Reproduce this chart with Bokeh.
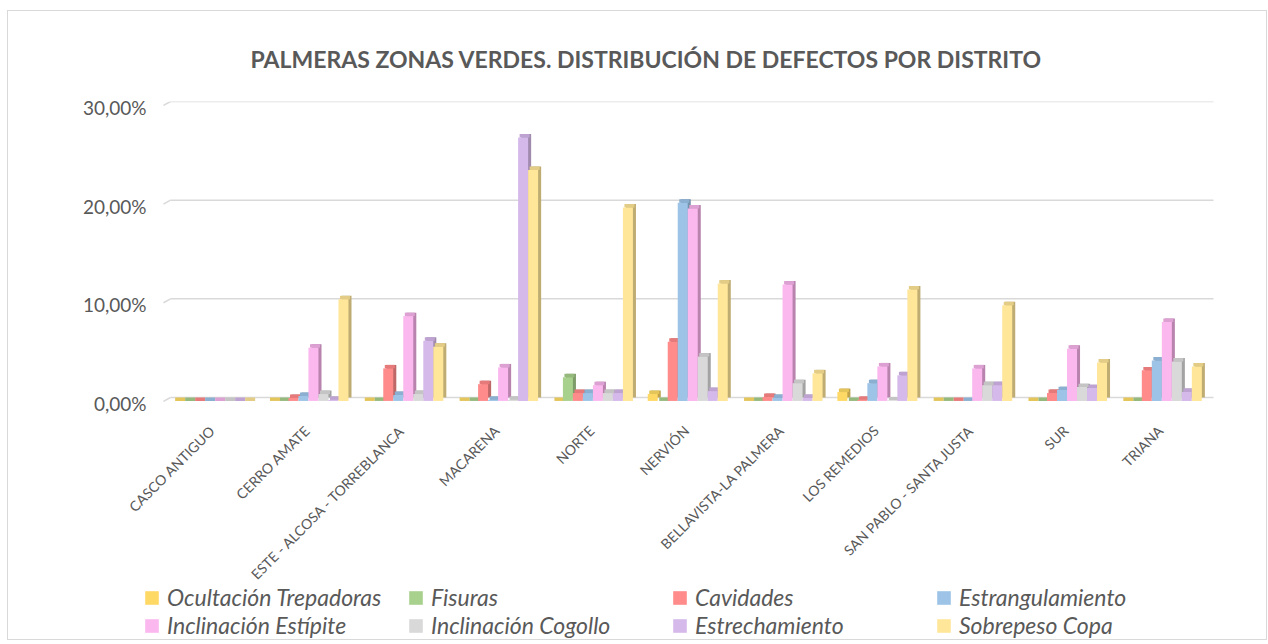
from bokeh.plotting import figure
from bokeh.models import (ColumnDataSource, FactorRange, Range1d, FixedTicker,
                          CustomJSTickFormatter, Legend, LegendItem)
from bokeh.transform import dodge
from bokeh.embed import file_html
from bokeh.resources import INLINE
import math

districts = ["CASCO ANTIGUO", "CERRO AMATE", "ESTE - ALCOSA - TORREBLANCA", "MACARENA",
             "NORTE", "NERVIÓN", "BELLAVISTA-LA PALMERA", "LOS REMEDIOS",
             "SAN PABLO - SANTA JUSTA", "SUR", "TRIANA"]

ocultacion_trepadoras = [0, 0, 0, 0, 0, 0.7, 0, 0.9, 0, 0, 0]
fisuras = [0, 0, 0, 0, 2.4, 0, 0, 0, 0, 0, 0]
cavidades = [0, 0.3, 3.3, 1.7, 0.8, 6.0, 0.4, 0.1, 0, 0.8, 3.1]
estrangulamiento = [0, 0.5, 0.6, 0.1, 0.8, 20.1, 0.3, 1.8, 0, 1.1, 4.1]
inclinacion_estipite = [0, 5.4, 8.6, 3.4, 1.6, 19.5, 11.8, 3.5, 3.3, 5.3, 8.0]
inclinacion_cogollo = [0, 0.7, 0.7, 0.1, 0.8, 4.5, 1.8, 0.05, 1.6, 1.4, 4.0]
estrechamiento = [0, 0.1, 6.1, 26.7, 0.8, 1.0, 0.3, 2.6, 1.6, 1.3, 0.9]
sobrepeso_copa = [0, 10.3, 5.5, 23.4, 19.6, 11.9, 2.8, 11.3, 9.7, 3.9, 3.5]

series_names = ["Ocultación Trepadoras", "Fisuras", "Cavidades", "Estrangulamiento",
                "Inclinación Estípite", "Inclinación Cogollo", "Estrechamiento", "Sobrepeso Copa"]
series_values = [ocultacion_trepadoras, fisuras, cavidades, estrangulamiento,
                 inclinacion_estipite, inclinacion_cogollo, estrechamiento, sobrepeso_copa]
y_ticks = [0, 10, 20, 30]

colors = ["#FFD966", "#A9D18E", "#FF8B8B", "#9DC3E6", "#FBB8EE", "#D9D9D9", "#D5B9EA", "#FFE699"]
cap_colors = ["#E3C55A", "#95B97C", "#E67A7A", "#8AAFD0", "#DCA0D2", "#C4C4C4", "#BEA3D2", "#E3CC86"]
side_colors = ["#BFA24A", "#7E9C69", "#BF6868", "#7592AC", "#B883AD", "#A3A3A3", "#A08BAF", "#BFAC72"]

DEPTH = 0.35  # 3D depth offset (in axis units) between front face and back plane

src = {"district": districts}
for i, vals in enumerate(series_values):
    src[f"f{i}"] = [v - DEPTH for v in vals]
    src[f"b{i}"] = vals
source = ColumnDataSource(src)

FONT = "Lato"
GRAY = "#595959"
PAD = 0.5062  # category units of frame extension on each side
Y0, Y1 = -24.53, 30

p = figure(width=1260, height=630,
           x_range=FactorRange(factors=districts, range_padding=PAD, range_padding_units="absolute"),
           y_range=Range1d(Y0, Y1), output_backend="svg", toolbar_location=None,
           min_border_left=114, min_border_right=7, min_border_top=90, min_border_bottom=2)
p.styles = {"border": "1px solid #D9D9D9", "margin-left": "7px", "margin-top": "10px"}
p.extra_y_ranges = {"lab": Range1d(Y0 + 0.6, Y1 + 0.6)}

# gridlines (back wall) with their perspective floor edges
gl = ColumnDataSource({"y": y_ticks, "y0": [t - 0.4 for t in y_ticks]})
p.segment(x0=0, y0="y", x1=len(districts), y1="y", source=gl, line_color="#D9D9D9", line_width=1.5)
p.segment(x0=-0.074, y0="y0", x1=0, y1="y", source=gl, line_color="#D9D9D9", line_width=1.5)

bw = 0.1055
shift = -0.045
items = []
for i, name in enumerate(series_names):
    off = (i - 3.5) * bw + shift
    p.vbar(x=dodge("district", off + 0.032, range=p.x_range), top=f"b{i}", bottom=0,
           width=bw, source=source, fill_color=side_colors[i], line_color=None)
    p.vbar(x=dodge("district", off + 0.016, range=p.x_range), top=f"b{i}", bottom=f"f{i}",
           width=bw, source=source, fill_color=cap_colors[i], line_color=None)
    r = p.vbar(x=dodge("district", off, range=p.x_range), top=f"f{i}", bottom=-DEPTH,
               width=bw, source=source, fill_color=colors[i], line_color=None)
    items.append(LegendItem(label=name, renderers=[r]))

# rotated category labels
p.text(x=dodge("district", -0.06, range=p.x_range), y=-3.1, text="district", source=source,
       angle=math.pi / 4, text_align="right", text_baseline="middle",
       text_font={"value": FONT}, text_font_size={"value": "14px"}, text_color=GRAY)
p.xaxis.visible = False

p.title.text = "PALMERAS ZONAS VERDES. DISTRIBUCIÓN DE DEFECTOS POR DISTRITO"
p.title.text_font = FONT
p.title.text_font_size = "23px"
p.title.text_font_style = "bold"
p.title.text_color = GRAY
p.title.align = "left"
p.title.offset = 128
p.title.standoff = 58

p.yaxis.y_range_name = "lab"
p.yaxis.ticker = FixedTicker(ticks=y_ticks)
p.yaxis.formatter = CustomJSTickFormatter(code="return tick.toFixed(2).replace('.', ',') + '%';")
p.yaxis.axis_line_color = None
p.yaxis.major_tick_line_color = None
p.yaxis.minor_tick_line_color = None
p.yaxis.major_label_text_font = FONT
p.yaxis.major_label_text_font_size = "19px"
p.yaxis.major_label_text_color = GRAY
p.yaxis.major_label_standoff = -30

p.xgrid.grid_line_color = None
p.ygrid.grid_line_color = None
p.outline_line_color = None

legend = Legend(items=items, location=(21, 0), orientation="horizontal", ncols=4,
                label_text_font=FONT, label_text_font_style="italic",
                label_text_font_size="23px", label_text_color=GRAY,
                glyph_width=17, glyph_height=17, label_standoff=7, label_width=240,
                label_height=26, spacing=0, padding=0, margin=0, border_line_color=None,
                background_fill_alpha=0)
p.add_layout(legend, "center")

open("out.html", "w").write(file_html(p, INLINE))
